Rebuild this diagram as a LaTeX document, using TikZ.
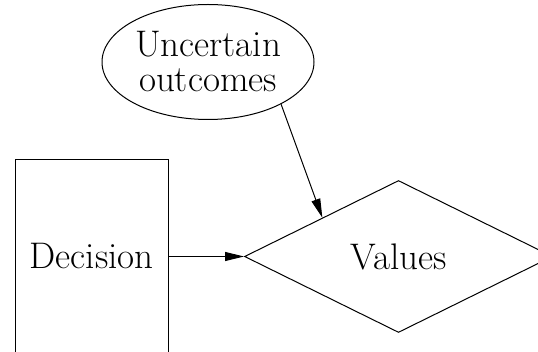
\documentclass[tikz,border=0pt]{standalone}
\usetikzlibrary{shapes.geometric,arrows.meta}
\begin{document}
\begin{tikzpicture}[x=1pt,y=-1pt,
  every node/.style={font=\fontsize{37}{35}\selectfont, line width=1pt, inner sep=0pt},
  shp/.style={draw=black},
  conn/.style={draw=black, line width=1pt, -{Triangle[length=19pt,width=9pt]}}]
\useasboundingbox (0,0) rectangle (538,352);
\node[shp, ellipse, minimum width=212pt, minimum height=115pt, align=center] (u) at (208,62) {Uncertain\\outcomes};
\node[shp, rectangle, minimum width=153pt, minimum height=193pt] (d) at (91.5,256.5) {Decision};
\node[shp, diamond, minimum width=308pt, minimum height=152pt] (v) at (398.5,256.5) {Values};
\draw[conn] (d.east) -- (v.west);
\draw[conn] (u.-30) -- (v.153);
\end{tikzpicture}
\end{document}
